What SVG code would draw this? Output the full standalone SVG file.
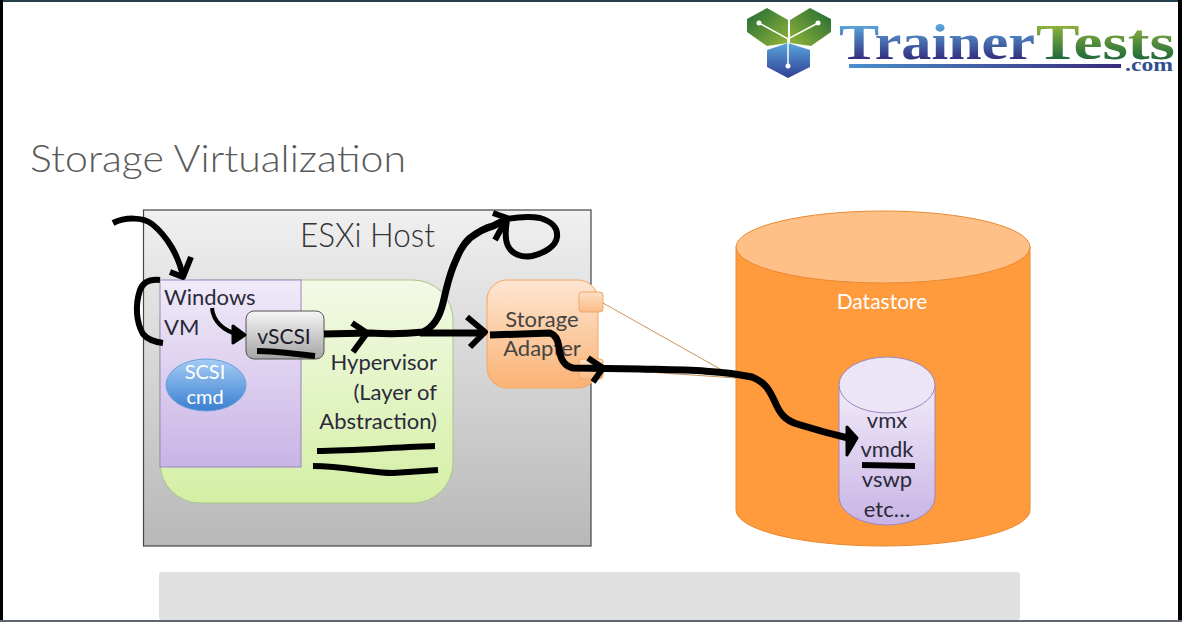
<svg xmlns="http://www.w3.org/2000/svg" width="1182" height="622" viewBox="0 0 1182 622">
<style>
text{font-family:Lato,"Open Sans","Liberation Sans",sans-serif;fill:#333}
.lbl{font-size:22px;fill:#2a2a3a}
.ink{fill:none;stroke:#000;stroke-width:6;stroke-linecap:butt;stroke-linejoin:round}
.thick{stroke-width:7}
.solid{fill:#000;stroke-width:3}
.thin{fill:none;stroke:#c8955f;stroke-width:1}
.logo{font-family:"Liberation Serif",serif;font-weight:bold}
</style>
<defs>
<linearGradient id="gHost" x1="0" y1="0" x2="0" y2="1"><stop offset="0" stop-color="#f0f0f0"/><stop offset="1" stop-color="#b8b8b8"/></linearGradient>
<linearGradient id="gHyp" x1="0" y1="0" x2="0" y2="1"><stop offset="0" stop-color="#f3f9e6"/><stop offset="1" stop-color="#d4efa4"/></linearGradient>
<linearGradient id="gVm" x1="0" y1="0" x2="0" y2="1"><stop offset="0" stop-color="#f1ebf9"/><stop offset="1" stop-color="#c8b4e5"/></linearGradient>
<linearGradient id="gScsi" x1="0" y1="0" x2="0" y2="1"><stop offset="0" stop-color="#f6f6f6"/><stop offset="1" stop-color="#a4a4a4"/></linearGradient>
<linearGradient id="gCmd" x1="0" y1="0" x2="0" y2="1"><stop offset="0" stop-color="#a5cdf5"/><stop offset="1" stop-color="#3a7fd0"/></linearGradient>
<linearGradient id="gAd" x1="0" y1="0" x2="0" y2="1"><stop offset="0" stop-color="#fde6d2"/><stop offset="1" stop-color="#fbb274"/></linearGradient>
<linearGradient id="gPort" x1="0" y1="0" x2="0" y2="1"><stop offset="0" stop-color="#fde0c6"/><stop offset="1" stop-color="#fbbb85"/></linearGradient>
<linearGradient id="gLogoG" x1="0" y1="0" x2="1" y2="1"><stop offset="0" stop-color="#1f6a33"/><stop offset="1" stop-color="#93b53a"/></linearGradient>
<linearGradient id="gLogoR" x1="1" y1="0" x2="0" y2="1"><stop offset="0" stop-color="#1f6a33"/><stop offset="1" stop-color="#93b53a"/></linearGradient>
<linearGradient id="gLogoB" x1="0" y1="0" x2="0" y2="1"><stop offset="0" stop-color="#5aa5dc"/><stop offset="1" stop-color="#2f3f94"/></linearGradient>
<linearGradient id="gT1" x1="0" y1="0" x2="0" y2="1"><stop offset="0.2" stop-color="#5aa5dc"/><stop offset="0.8" stop-color="#33307f"/></linearGradient>
<linearGradient id="gT2" x1="0" y1="0" x2="0" y2="1"><stop offset="0.2" stop-color="#8fb23d"/><stop offset="0.8" stop-color="#1f6a3b"/></linearGradient>
<linearGradient id="gBar" x1="0" y1="0" x2="1" y2="0"><stop offset="0" stop-color="#4a8fcc"/><stop offset="1" stop-color="#3a2a7c"/></linearGradient>
</defs>
<rect width="1182" height="622" fill="#fff"/>
<rect x="0" y="0" width="1182" height="2" fill="#24414d"/>
<rect x="0" y="0" width="3" height="622" fill="#000"/>
<rect x="1178" y="0" width="4" height="622" fill="#000"/>

<g id="logo">
<polygon points="747,19 767,8 788,20 788,43 767,46 747,32" fill="url(#gLogoG)"/>
<polygon points="790,20 810,8 831,19 831,32 811,46 790,43" fill="url(#gLogoR)"/>
<polygon points="767,50 788,43 810,50 810,67 788,78 767,67" fill="url(#gLogoB)"/>
<path d="M759,23 L788,39 L818,23 M788,39 V66" stroke="#fff" stroke-width="1.5" fill="none"/>
<circle cx="759" cy="23" r="2.5" fill="#fff"/><circle cx="818" cy="23" r="2.5" fill="#fff"/><circle cx="788" cy="66" r="2.5" fill="#fff"/>
<text class="logo" x="839" y="59" font-size="50" textLength="196" lengthAdjust="spacingAndGlyphs" style="fill:url(#gT1)">Trainer</text>
<text class="logo" x="1036" y="59" font-size="50" textLength="139" lengthAdjust="spacingAndGlyphs" style="fill:url(#gT2)">Tests</text>
<rect x="849" y="64" width="272" height="4" fill="url(#gBar)"/>
<text class="logo" x="1125" y="71" font-size="19" textLength="48" lengthAdjust="spacingAndGlyphs" style="fill:#2f4f8f">.com</text>
</g>

<text id="title" x="30" y="172" font-size="38" textLength="376" lengthAdjust="spacingAndGlyphs" style="fill:#5a5a5a;font-weight:300">Storage Virtualization</text>

<g id="esxi-host">
<rect x="143.5" y="210" width="447.5" height="336" fill="url(#gHost)" stroke="#444" stroke-width="1.2"/>
<text x="300" y="247" font-size="34" textLength="135" lengthAdjust="spacingAndGlyphs" style="font-weight:300">ESXi Host</text>
</g>
<g id="hypervisor">
<rect x="160" y="280" width="293" height="223" rx="40" fill="url(#gHyp)" stroke="#a9c48a"/>
<text class="lbl" x="437" y="370" text-anchor="end">Hypervisor</text>
<text class="lbl" x="437" y="400" text-anchor="end">(Layer of</text>
<text class="lbl" x="437" y="429" text-anchor="end">Abstraction)</text>
</g>
<g id="windows-vm">
<rect x="160" y="280" width="141" height="187" fill="url(#gVm)" stroke="#9a86c0"/>
<text class="lbl" x="164" y="305">Windows</text>
<text class="lbl" x="164" y="335">VM</text>
</g>
<g id="scsi-cmd">
<ellipse cx="206" cy="385" rx="40" ry="26" fill="url(#gCmd)" stroke="#6a9fd8"/>
<text x="205" y="379" font-size="20" text-anchor="middle" style="fill:#fff">SCSI</text>
<text x="205" y="404" font-size="20" text-anchor="middle" style="fill:#fff">cmd</text>
</g>
<g id="vscsi">
<rect x="246" y="311" width="78" height="48" rx="8" fill="url(#gScsi)" stroke="#555"/>
<text x="284" y="344" font-size="21" text-anchor="middle" style="fill:#1a1a2a">vSCSI</text>
</g>
<g id="storage-adapter">
<rect x="487" y="280" width="111" height="108" rx="20" fill="url(#gAd)" stroke="#f0a866"/>
<rect x="579" y="292" width="24" height="20" rx="3" fill="url(#gPort)" stroke="#f0a866"/>
<rect x="579" y="359" width="24" height="20" rx="3" fill="url(#gPort)" stroke="#f0a866"/>
<text class="lbl" x="542" y="327" text-anchor="middle" style="fill:#444">Storage</text>
<text class="lbl" x="542" y="356" text-anchor="middle" style="fill:#444">Adapter</text>
</g>
<g id="datastore">
<path d="M736,247 V510 A147,36 0 0 0 1030,510 V247 Z" fill="#ff9a3d" stroke="#e88a30"/>
<ellipse cx="883" cy="247" rx="147" ry="36" fill="#ffc088" stroke="#e88a30"/>
<text x="882" y="309" font-size="21" text-anchor="middle" style="fill:#fff">Datastore</text>
</g>
<g id="files">
<path d="M839,385 V497 A48,28 0 0 0 935,497 V385 Z" fill="url(#gVm)" stroke="#9a86c0"/>
<ellipse cx="887" cy="385" rx="48" ry="28" fill="#ece5f6" stroke="#9a86c0"/>
<text class="lbl" x="887" y="428" text-anchor="middle">vmx</text>
<text class="lbl" x="887" y="457" text-anchor="middle">vmdk</text>
<text class="lbl" x="887" y="487" text-anchor="middle">vswp</text>
<text class="lbl" x="887" y="517" text-anchor="middle">etc…</text>
</g>
<g id="connectors">
<path class="thin" d="M603,303 L736,378 M603,369 L736,378"/>
<path d="M324,335 H487" stroke="#f0a050" stroke-width="2" fill="none"/>
<path class="ink" d="M113,223 C125,217 143,217 152,224 C167,236 179,256 183,277"/>
<path class="ink" d="M170,272 L183,277 L191,257"/>
<path class="ink" d="M160,280 C150,279 143,282 140,290 C135,305 136,322 143,334 C148,340 155,342 163,343"/>
<path class="ink" d="M212,308 C213,320 222,331 240,335" style="stroke-width:4"/>
<path class="ink solid" d="M233,326 L245,335 L233,343 Z"/>
<path class="ink thick" d="M324,334 L370,333 C385,334 405,334 423,332 C434,327 440,316 443,303 C446,290 448,280 453,267 C458,255 462,245 470,238 C478,232 485,228 493,226 L507,219"/>
<path class="ink" d="M352,323 L367,333 L353,352"/>
<path class="ink" d="M493,213 L507,218 L495,240"/>
<path class="ink" d="M507,220 C505,232 505,240 508,246 C512,254 522,258 532,256 C545,253 556,246 557,237 C558,228 553,222 540,218 C530,216 518,217 507,219"/>
<path class="ink thick" d="M420,333 L484,333"/>
<path class="ink" d="M467,317 L485,332 L470,347"/>
<path class="ink thick" d="M490,335 L550,333 C556,335 558,340 559,347 C560,358 563,366 573,368 L640,369 C680,370 720,370 752,377 C767,383 770,392 775,402 C780,414 785,420 797,424 C813,429 835,435 852,439"/>
<path class="ink" d="M588,358 L603,368 L593,382"/>
<path class="ink solid" d="M847,427 L857,438 L847,455 Z"/>
<path class="ink" d="M257,351 C275,351 295,354 315,356"/>
<path class="ink" d="M317,451 C350,451 400,447 435,446"/>
<path class="ink" d="M313,466 C345,466 370,473 393,473 L438,470"/>
<path class="ink" d="M862,465 L915,466"/>
</g>
<rect id="bar" x="159" y="572" width="861" height="48" rx="3" fill="#e0e0e0"/>
<rect x="0" y="620" width="1182" height="2" fill="#5f6670"/>
</svg>
